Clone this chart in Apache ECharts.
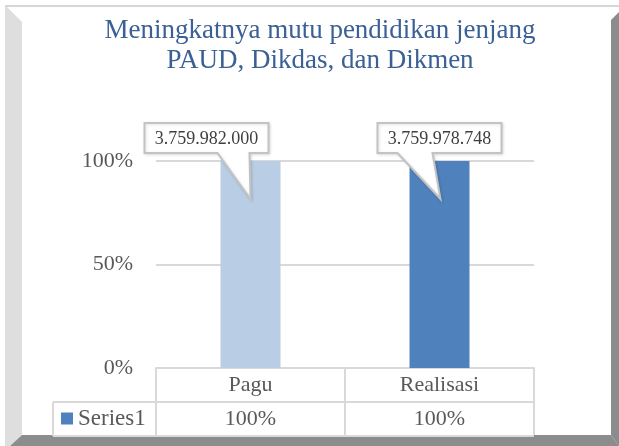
<!DOCTYPE html>
<html>
<head>
<meta charset="utf-8">
<script src="https://cdn.jsdelivr.net/npm/echarts@6/dist/echarts.min.js"></script>
<style>
  html, body { margin: 0; padding: 0; background: #fff; }
  #chart { width: 619px; height: 446px; }
</style>
</head>
<body>
<div id="chart"></div>
<script>
// data
const categories = ['Pagu', 'Realisasi'];
const percentValues = [1, 1];
const amounts = [3759982000, 3759978748];
const yTicks = [0, 0.5, 1];
const seriesName = 'Series1';

const serif = "'Times New Roman', 'Liberation Serif', serif";
const barColors = ['#B9CDE5', '#4F81BD'];
const lineGray = '#d9d9d9';
// where each callout box sits relative to the bar centre (box shift, pointer base, tip shift)
const calloutLayout = [
  { shift: -44, base: [-33, -1], tip: 0 },
  { shift: 0, base: [-42, -7], tip: 1 }
];

const fmtAmount = n => Math.round(n).toString().replace(/\B(?=(\d{3})+(?!\d))/g, '.');
const fmtPct = v => Math.round(v * 100) + '%';

const myChart = echarts.init(document.getElementById('chart'));

const option = {
  backgroundColor: '#fff',
  animation: false,
  title: {
    text: 'Meningkatnya mutu pendidikan jenjang\nPAUD, Dikdas, dan Dikmen',
    left: 320,
    top: 16,
    padding: 0,
    textAlign: 'center',
    textStyle: {
      fontFamily: serif,
      fontSize: 27,
      fontWeight: 'normal',
      color: '#3a6094',
      lineHeight: 30
    }
  },
  legend: {
    data: [seriesName],
    left: 61,
    top: 407,
    padding: 0,
    icon: 'rect',
    itemWidth: 12,
    itemHeight: 12,
    itemGap: 5,
    textStyle: { fontFamily: serif, fontSize: 23, color: '#595959' }
  },
  grid: {
    left: 156,
    right: 85,
    top: 161,
    bottom: 78,
    outerBoundsMode: 'none'
  },
  xAxis: {
    type: 'category',
    data: categories,
    axisLine: { show: true, lineStyle: { color: lineGray, width: 2 } },
    axisTick: { show: true, length: 67, interval: 0, lineStyle: { color: lineGray, width: 2 } },
    axisLabel: {
      interval: 0,
      margin: 0,
      formatter: (val, idx) => '{a|' + val + '}\n{a|' + fmtPct(percentValues[idx]) + '}',
      rich: {
        a: { fontFamily: serif, fontSize: 22, color: '#595959', lineHeight: 34 }
      }
    }
  },
  yAxis: {
    type: 'value',
    min: yTicks[0],
    max: yTicks[yTicks.length - 1],
    interval: yTicks[1] - yTicks[0],
    axisLine: { show: false },
    axisTick: { show: false },
    axisLabel: {
      margin: 23,
      formatter: v => fmtPct(v),
      fontFamily: serif,
      fontSize: 22,
      color: '#595959'
    },
    splitLine: { lineStyle: { color: lineGray, width: 2 } }
  },
  series: [
    {
      name: seriesName,
      type: 'bar',
      barWidth: 60,
      itemStyle: { color: barColors[1] },
      data: percentValues.map((v, i) => ({ value: v, itemStyle: { color: barColors[i] } })),
      z: 2
    },
    {
      name: 'callout',
      type: 'custom',
      z: 5,
      data: percentValues.map((v, i) => [i, v, amounts[i]]),
      encode: { x: 0, y: 1 },
      renderItem: (params, api) => {
        const i = params.dataIndex;
        const lay = calloutLayout[i];
        const p = api.coord([api.value(0), api.value(1)]);
        const cx = p[0], top = p[1];
        const w = 124, h = 30;
        const bx = cx + lay.shift - w / 2;
        const by = top - 38;
        const bb = by + h;
        const pts = [
          [bx, by], [bx + w, by], [bx + w, bb],
          [cx + lay.base[1], bb], [cx + lay.tip, top + 38], [cx + lay.base[0], bb],
          [bx, bb]
        ];
        return {
          type: 'group',
          children: [
            {
              type: 'polygon',
              shape: { points: pts },
              style: {
                fill: '#fff', stroke: '#c3c3c3', lineWidth: 2,
                shadowColor: 'rgba(0,0,0,0.12)', shadowBlur: 3, shadowOffsetX: 1, shadowOffsetY: 1
              }
            },
            {
              type: 'text',
              x: bx + w / 2,
              y: by + h / 2 + 1,
              style: {
                text: fmtAmount(api.value(2)),
                align: 'center',
                verticalAlign: 'middle',
                font: '18px ' + serif,
                fill: '#404040'
              }
            }
          ]
        };
      }
    }
  ],
  graphic: [
    // frame bevel
    { type: 'polygon', z: -10, shape: { points: [[5, 5], [22, 22], [22, 435], [10, 446], [5, 446]] }, style: { fill: '#dedede' } },
    { type: 'rect', z: -10, shape: { x: 5, y: 5, width: 614, height: 2 }, style: { fill: '#d6d6d6' } },
    { type: 'polygon', z: -10, shape: { points: [[611, 20], [619, 12], [619, 446], [611, 435]] }, style: { fill: '#8c8c8c' } },
    { type: 'polygon', z: -10, shape: { points: [[22, 435], [611, 435], [619, 446], [10, 446]] }, style: { fill: '#8c8c8c' } },
    // data table row lines
    { type: 'line', z: 10, shape: { x1: 53, y1: 402, x2: 534, y2: 402 }, style: { stroke: lineGray, lineWidth: 2 } },
    { type: 'line', z: 10, shape: { x1: 53, y1: 436, x2: 534, y2: 436 }, style: { stroke: lineGray, lineWidth: 2 } },
    { type: 'line', z: 10, shape: { x1: 53, y1: 402, x2: 53, y2: 436 }, style: { stroke: lineGray, lineWidth: 2 } }
  ]
};

myChart.setOption(option);
</script>
</body>
</html>
